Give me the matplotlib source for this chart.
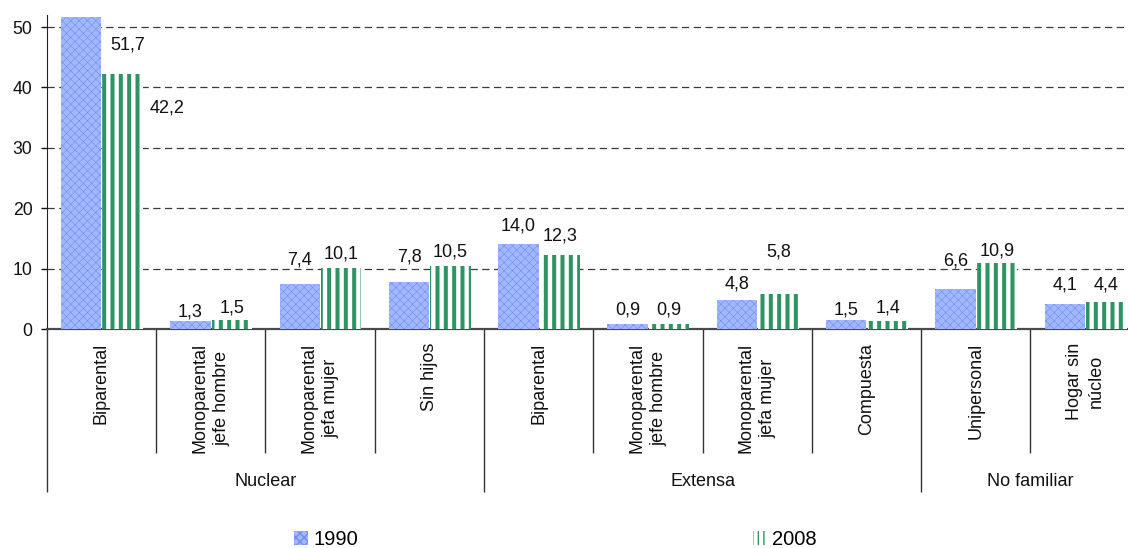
import matplotlib
matplotlib.use("Agg")
import matplotlib.pyplot as plt
from matplotlib.patches import Patch

plt.rcParams["font.family"] = ["Liberation Sans", "DejaVu Sans"]

# datos
grupos = ["Nuclear", "Extensa", "No familiar"]
grupo_n = [4, 4, 2]
categorias = [
    "Biparental", "Monoparental\njefe hombre", "Monoparental\njefa mujer", "Sin hijos",
    "Biparental", "Monoparental\njefe hombre", "Monoparental\njefa mujer", "Compuesta",
    "Unipersonal", "Hogar sin\nnúcleo",
]
v1990 = [51.7, 1.3, 7.4, 7.8, 14.0, 0.9, 4.8, 1.5, 6.6, 4.1]
v2008 = [42.2, 1.5, 10.1, 10.5, 12.3, 0.9, 5.8, 1.4, 10.9, 4.4]
yticks = [0, 10, 20, 30, 40, 50]

# desplazamiento de etiquetas (px) respecto al tope de la barra
off1990 = [(47, -33), (0, 5), (0, 20), (0, 20), (0, 14), (0, 9), (0, 12), (0, 5), (0, 24), (0, 15)]
off2008 = [(44, -38), (0, 7), (0, 10), (0, 9), (0, 14), (0, 9), (0, 37), (0, 8), (0, 8), (0, 13)]

AZUL = "#a3b7ff"
AZUL_H = "#6d8df7"
VERDE = "#2f9464"
PX = 0.72  # px -> pt at dpi 100

fig = plt.figure(figsize=(11.28, 5.48), dpi=100)
ax = fig.add_axes([0.0414, 0.3996, 0.969, 0.573])

n = len(categorias)
x = list(range(n))
w = 0.37
with plt.rc_context({"hatch.linewidth": 0.4}):
    b1 = ax.bar([i + 0.315 for i in x], v1990, width=w, facecolor=AZUL, edgecolor=AZUL_H,
                hatch="xxxx", linewidth=0, zorder=3)
with plt.rc_context({"hatch.linewidth": 2.9}):
    b2 = ax.bar([i + 0.695 for i in x], v2008, width=w, facecolor="white", edgecolor=VERDE,
                hatch="||", linewidth=0, zorder=3)

for bars, vals, offs in [(b1, v1990, off1990), (b2, v2008, off2008)]:
    for r, v, (dx, dy) in zip(bars, vals, offs):
        ax.annotate(f"{v:.1f}".replace(".", ","), (r.get_x() + r.get_width() / 2, v),
                    xytext=(dx * PX, dy * PX), textcoords="offset points",
                    ha="center", va="baseline", fontsize=13, color="#111111")

ax.set_xlim(0, n)
ax.set_ylim(0, 52)
ax.set_yticks(yticks)
ax.tick_params(axis="y", labelsize=12.7, length=4.3, width=1, pad=6, colors="#111111")
ax.yaxis.grid(True, color="#3a3a3a", linewidth=0.9, dashes=(5.8, 3.6))
ax.set_axisbelow(True)

for s in ["top", "right"]:
    ax.spines[s].set_visible(False)
ax.spines["left"].set_color("#222222")
ax.spines["bottom"].set_color("#4a4a4a")
ax.spines["bottom"].set_linewidth(1.6)

# separadores bajo el eje
bordes = [0]
for g in grupo_n:
    bordes.append(bordes[-1] + g)
internos = [i for i in range(1, n) if i not in bordes]
ax.set_xticks(bordes)
ax.set_xticks(internos, minor=True)
ax.tick_params(axis="x", which="major", length=163 * PX, width=1, color="#333333", labelbottom=False)
ax.tick_params(axis="x", which="minor", length=124 * PX, width=1, color="#333333", labelbottom=False)

for i, lab in enumerate(categorias):
    ax.annotate(lab, (i + 0.5, 0), xytext=(0, -14 * PX), textcoords="offset points",
                rotation=90, ha="center", va="top", multialignment="center",
                linespacing=1.38, fontsize=13, color="#111111")

for k, g in enumerate(grupos):
    centro = (bordes[k] + bordes[k + 1]) / 2
    ax.annotate(g, (centro, 0), xytext=(0, -157 * PX), textcoords="offset points",
                ha="center", va="baseline", fontsize=13, color="#111111", annotation_clip=False)

with plt.rc_context({"hatch.linewidth": 0.4}):
    h1 = Patch(facecolor=AZUL, edgecolor=AZUL_H, hatch="xxxx", linewidth=0)
with plt.rc_context({"hatch.linewidth": 2.2}):
    h2 = Patch(facecolor="white", edgecolor=VERDE, hatch="|||", linewidth=0)
fig.legend([h1, h2], ["1990", "2008"], loc="lower left", bbox_to_anchor=(0.2606, -0.002),
           ncol=2, frameon=False, fontsize=14.5, handlelength=0.7, handleheight=0.7,
           handletextpad=0.25, columnspacing=19.6, borderpad=0, borderaxespad=0)

fig.savefig("out.png", dpi=100)
